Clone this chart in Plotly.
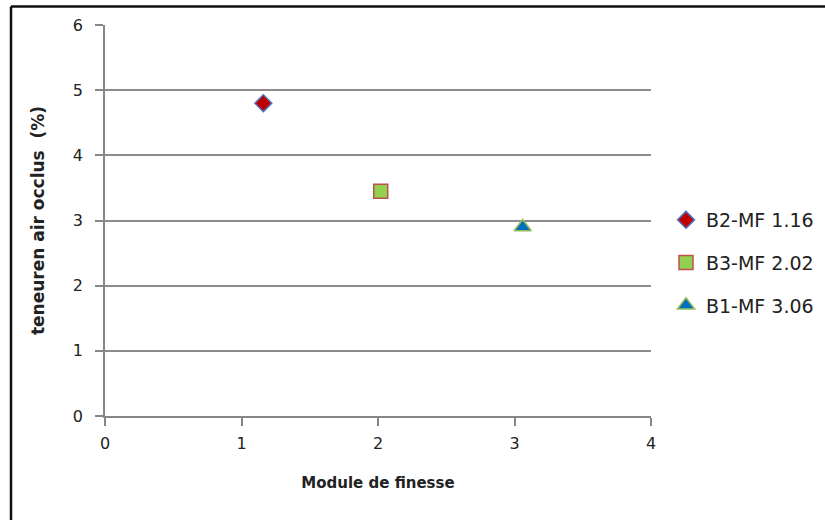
import plotly.graph_objects as go

names = ["B2-MF 1.16", "B3-MF 2.02", "B1-MF 3.06"]
x_vals = [1.16, 2.02, 3.06]
y_vals = [4.8, 3.45, 2.9]
symbols = ["diamond", "square", "triangle-up"]
fills = ["#C00000", "#92D050", "#0070C0"]
borders = ["#4F6FBD", "#C0504D", "#9BBB59"]
sizes = [13, 14, 15]

fig = go.Figure()
for i in range(len(names)):
    fig.add_trace(go.Scatter(
        x=[x_vals[i]], y=[y_vals[i]], mode="markers", name=names[i],
        legendgroup=names[i],
        marker=dict(symbol=symbols[i], color=fills[i], size=sizes[i],
                    line=dict(color=borders[i], width=1.5)),
    ))

L, R, T, B = 105, 174, 25, 104
W, H = 825, 520
pw, ph = W - L - R, H - T - B

FONT = "DejaVu Sans, Liberation Sans, sans-serif"

fig.update_layout(
    width=W, height=H,
    margin=dict(l=L, r=R, t=T, b=B, autoexpand=False),
    paper_bgcolor="white", plot_bgcolor="white",
    font=dict(family=FONT, size=15, color="#222"),
    showlegend=True,
    legend=dict(x=(666 - L) / pw, y=1 - (201 - T) / ph, xanchor="left", yanchor="top",
                font=dict(size=19, color="#222"), tracegroupgap=15,
                itemwidth=30, bgcolor="rgba(0,0,0,0)"),
    xaxis=dict(range=[0, 4], tickvals=[0, 1, 2, 3, 4], showgrid=False,
               showline=True, linecolor="#868686", linewidth=1.5,
               ticks="outside", ticklen=8, tickcolor="#868686", tickwidth=1.5,
               ticklabelstandoff=4, automargin=False,
               zeroline=False, tickfont=dict(size=16),
               title=dict(text="<b>Module de finesse</b>", font=dict(size=15), standoff=26)),
    yaxis=dict(range=[0, 6], tickvals=[0, 1, 2, 3, 4, 5, 6], showgrid=True,
               gridcolor="#8C8C8C", gridwidth=1.5,
               showline=True, linecolor="#868686", linewidth=1.5,
               ticks="outside", ticklen=8, tickcolor="#868686", tickwidth=1.5,
               ticklabelstandoff=9, automargin=False,
               zeroline=False, tickfont=dict(size=16),
               title=dict(text="<b>teneuren air occlus  (%)</b>", font=dict(size=17), standoff=24)),
)

# outer chart border (top and left edges visible)
x_left = (11 - L) / pw
y_top = 1 + (T - 6.5) / ph
fig.add_shape(type="line", xref="paper", yref="paper", x0=x_left, x1=(W + 10 - L) / pw,
              y0=y_top, y1=y_top, line=dict(color="#111", width=2.5))
fig.add_shape(type="line", xref="paper", yref="paper", x0=x_left, x1=x_left,
              y0=y_top, y1=-(B + 10) / ph, line=dict(color="#111", width=2.5))

fig.write_html("out.html", config={"displayModeBar": False},
               post_script="document.body.style.margin='0';document.body.style.padding='0';")
